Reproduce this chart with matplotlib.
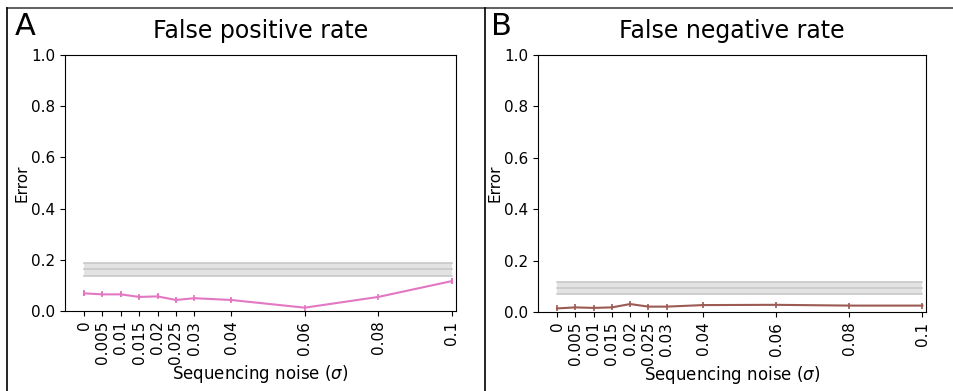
import matplotlib
matplotlib.use("Agg")
import matplotlib.pyplot as plt
from matplotlib.lines import Line2D

noise = [0, 0.005, 0.01, 0.015, 0.02, 0.025, 0.03, 0.04, 0.06, 0.08, 0.1]
tick_labels = ["0", "0.005", "0.01", "0.015", "0.02", "0.025", "0.03", "0.04", "0.06", "0.08", "0.1"]

fpr = [0.069, 0.065, 0.065, 0.055, 0.057, 0.043, 0.050, 0.043, 0.013, 0.055, 0.117]
fpr_err = [0.010, 0.008, 0.009, 0.007, 0.008, 0.008, 0.006, 0.006, 0.003, 0.005, 0.012]
fnr = [0.014, 0.018, 0.016, 0.018, 0.031, 0.021, 0.021, 0.027, 0.028, 0.025, 0.025]
fnr_err = [0.002, 0.002, 0.002, 0.002, 0.002, 0.002, 0.002, 0.002, 0.002, 0.002, 0.002]

# baseline bands (low, mid, high)
fpr_base = [0.136, 0.163, 0.189]
fnr_base = [0.071, 0.095, 0.118]

fig = plt.figure(figsize=(9.54, 3.91), dpi=100)

panels = [
    ([0.068, 0.2046, 0.410, 0.6547], "False positive rate", fpr, fpr_err, fpr_base, "#e377c2", "A", 0.016),
    ([0.564, 0.2020, 0.407, 0.6573], "False negative rate", fnr, fnr_err, fnr_base, "#9c5a52", "B", 0.515),
]

for rect, title, vals, err, base, col, letter, lx in panels:
    ax = fig.add_axes(rect)
    ax.fill_between([0, 0.1], base[0], base[2], color="#d8d8d8", alpha=0.7, lw=0)
    for b in base:
        ax.plot([0, 0.1], [b, b], color="#c8c8c8", lw=1.2)
    ax.errorbar(noise, vals, yerr=err, color=col, lw=1.5, capsize=0, elinewidth=1.5)
    ax.plot(noise, vals, "|", color=col, ms=5, mew=1.2)
    ax.set_ylim(0, 1.0)
    ax.set_xlim(-0.0052, 0.1011)
    ax.set_xticks(noise)
    ax.set_xticklabels(tick_labels, rotation=90, fontsize=11)
    ax.set_yticks([0, 0.2, 0.4, 0.6, 0.8, 1.0])
    ax.set_yticklabels(["0.0", "0.2", "0.4", "0.6", "0.8", "1.0"], fontsize=11)
    ax.set_ylabel("Error", fontsize=11, labelpad=1)
    ax.set_xlabel(r"Sequencing noise ($\sigma$)", fontsize=12, labelpad=-1)
    ax.set_title(title, fontsize=17, pad=12)
    fig.text(lx, 0.97, letter, fontsize=22, va="top", ha="left")

# frame lines
fig.add_artist(Line2D([0.007, 1.0], [0.979, 0.979], color="#444444", lw=1.2, transform=fig.transFigure))
fig.add_artist(Line2D([0.007, 0.007], [0.0, 0.979], color="black", lw=1.2, transform=fig.transFigure))
fig.add_artist(Line2D([0.508, 0.508], [0.0, 0.979], color="black", lw=1.2, transform=fig.transFigure))

fig.savefig("out.png", dpi=100)
